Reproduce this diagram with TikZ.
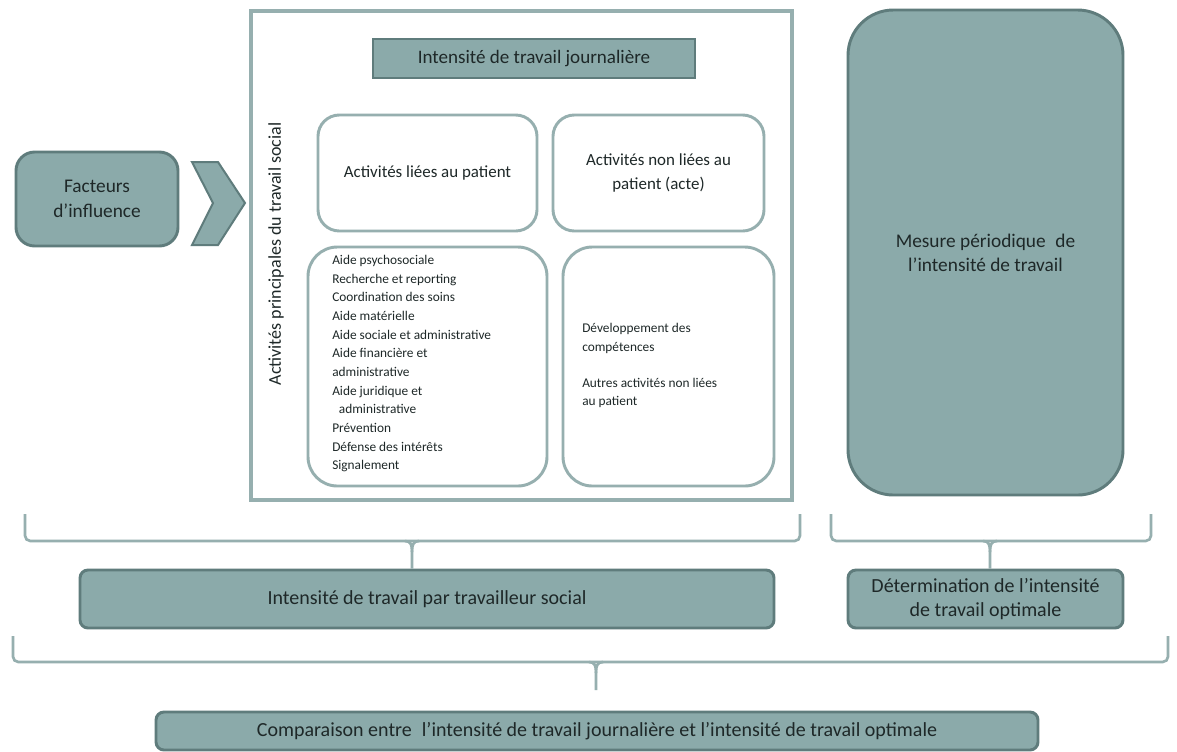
\documentclass[tikz,border=0pt]{standalone}
\usepackage{fontspec}
\setmainfont{Carlito}
\definecolor{tealfill}{HTML}{8BAAAA}
\definecolor{tealedge}{HTML}{5F7C7C}
\definecolor{paleedge}{HTML}{96AFAF}
\definecolor{inktext}{HTML}{1E2828}
\tikzset{
  x=0.75pt, y=-0.75pt,
  % span=left/top/right/bottom places a box by its corners
  span/.style args={#1/#2/#3/#4}{
    minimum width={(#3-#1)*0.75pt}, minimum height={(#4-#2)*0.75pt},
    at={({(#1+#3)/2},{(#2+#4)/2})}},
  tealbox/.style={draw=tealedge, fill=tealfill, line width=2.2pt, inner sep=0pt, text=inktext, align=center},
  whitebox/.style={draw=paleedge, fill=white, line width=2.2pt, inner sep=0pt, text=inktext, align=center},
  bracket/.style={draw=paleedge, line width=2pt, rounded corners=4pt},
  plain/.style={text=inktext, inner sep=0pt}
}
\begin{document}
\begin{tikzpicture}
\useasboundingbox[fill=white] (0,0) rectangle (1177,751);

% influencing factors and chevron
\node[tealbox, rounded corners=14pt, span=16/152/178/246, font=\fontsize{14.5}{19}\selectfont] (facteurs) {Facteurs\\d’influence};
\draw[draw=tealedge, fill=tealfill, line width=1.5pt] (192,162) -- (218,162) -- (245,203) -- (218,245) -- (192,245) -- (213,203) -- cycle;

% main frame of daily activities
\node[draw=paleedge, line width=2.4pt, inner sep=0pt, span=251/11/792/500] (frame) {};
\node[tealbox, span=373/39/695/78, font=\fontsize{14.3}{16}\selectfont] (header) {Intensité de travail journalière};
\node[plain, rotate=90, font=\fontsize{13.5}{15}\selectfont] (axis) at (276,254) {Activités principales du travail social};

\node[whitebox, rounded corners=16pt, span=318/115/537/231, font=\fontsize{12.7}{15}\selectfont] (patient) {Activités liées au patient};
\node[whitebox, rounded corners=16pt, span=553/115/764/231, font=\fontsize{12.7}{18}\selectfont] (nonpatient) {Activités non liées au\\patient (acte)};
\node[whitebox, rounded corners=22pt, span=308/247/547/486] (listbox) {};
\node[whitebox, rounded corners=22pt, span=563/247/774/486] (otherbox) {};

\node[plain, anchor=north west, align=left, font=\fontsize{10}{14}\selectfont] (list) at (332,255) {%
Aide psychosociale\\
Recherche et reporting\\
Coordination des soins\\
Aide matérielle\\
Aide sociale et administrative\\
Aide financière et\\
administrative\\
Aide juridique et\\
\hspace*{5pt}administrative\\
Prévention\\
Défense des intérêts\\
Signalement};
\node[plain, anchor=north west, align=left, font=\fontsize{10}{14}\selectfont] (other) at (582,323) {%
Développement des\\
compétences\\[13pt]
Autres activités non liées\\
au patient};

% periodic measurement
\node[tealbox, rounded corners=34pt, span=848/10/1123/495, font=\fontsize{14.5}{18}\selectfont] (mesure) {Mesure périodique\enspace de\\l’intensité de travail};

% result boxes
\node[tealbox, rounded corners=6pt, span=80/570/774/628, font=\fontsize{15}{17}\selectfont] (parts) {Intensité de travail par travailleur social};
\node[tealbox, rounded corners=6pt, span=848/570/1123/628, font=\fontsize{15}{17.5}\selectfont] (optimal) {Détermination de l’intensité\\de travail optimale};
\node[tealbox, rounded corners=6pt, span=156/712/1038/750, font=\fontsize{15}{17}\selectfont] (compare) {Comparaison entre\enspace l’intensité de travail journalière et l’intensité de travail optimale};

% grouping brackets
\draw[bracket] (25,514) -- (25,541) -- (800,541) -- (800,514);
\draw[paleedge, line width=2pt] (405,541) .. controls (411,541) and (412,545) .. (412,552) -- (parts.north -| 412,570);
\draw[paleedge, line width=2pt] (419,541) .. controls (413,541) and (412,545) .. (412,552);

\draw[bracket] (831,514) -- (831,541) -- (1151,541) -- (1151,514);
\draw[paleedge, line width=2pt] (983,541) .. controls (989,541) and (990,545) .. (990,552) -- (optimal.north -| 990,570);
\draw[paleedge, line width=2pt] (997,541) .. controls (991,541) and (990,545) .. (990,552);

\draw[bracket] (13,636) -- (13,662) -- (1168,662) -- (1168,636);
\draw[paleedge, line width=2pt] (589,662) .. controls (595,662) and (596,666) .. (596,673) -- (596,690);
\draw[paleedge, line width=2pt] (603,662) .. controls (597,662) and (596,666) .. (596,673);
\end{tikzpicture}
\end{document}
